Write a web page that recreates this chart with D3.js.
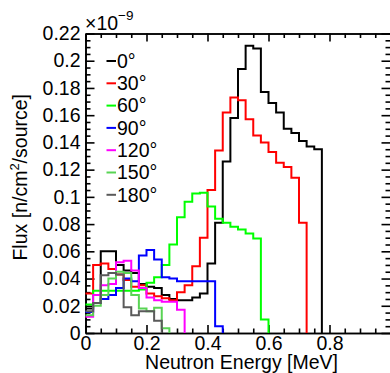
<!DOCTYPE html>
<html>
<head>
<meta charset="utf-8">
<script src="https://cdn.jsdelivr.net/npm/d3@7"></script>
<style>
  body { margin: 0; background: #fff; }
  svg text { font-family: "Liberation Sans", Arial, Helvetica, sans-serif; fill: #000; }
</style>
</head>
<body>
<div id="chart"></div>
<script>
// histogram bins are 0.025 MeV wide, starting at 0
var binWidth = 0.025;

var angles = ["0°", "30°", "60°", "90°", "120°", "150°", "180°"];
var colors = ["#000000", "#ff0000", "#00ff00", "#0000ff", "#ff00ff", "#59d454", "#5a5a5a"];

// flux per bin, units of 1e-9 n/cm2/source
var flux0 = [0.018, 0.022, 0.060, 0.060, 0.050, 0.046, 0.044, 0.036, 0.034, 0.033, 0.028, 0.025, 0.024, 0.024, 0.026, 0.029,
	0.051, 0.081, 0.126, 0.158, 0.194, 0.211, 0.209, 0.177, 0.169, 0.162, 0.150, 0.147, 0.141, 0.137, 0.135];
var flux30 = [0.029, 0.050, 0.051, 0.047, 0.043, 0.039, 0.034, 0.035, 0.029, 0.027, 0.0255, 0.024, 0.030, 0.035, 0.049,
	0.070, 0.105, 0.134, 0.162, 0.173, 0.171, 0.157, 0.145, 0.140, 0.133, 0.125, 0.122, 0.114, 0.081];
var flux60 = [0.021, 0.031, 0.031, 0.031, 0.031, 0.031, 0.031, 0.032, 0.037, 0.041, 0.050, 0.065, 0.085, 0.0965, 0.1025,
	0.103, 0.093, 0.084, 0.081, 0.078, 0.076, 0.073, 0.0695, 0.010];
var flux90 = [0.0155, 0.022, 0.025, 0.028, 0.033, 0.040, 0.038, 0.057, 0.061, 0.054, 0.041, 0.040, 0.038, 0.038, 0.038,
	0.038, 0.038, 0.005];
var flux120 = [0.012, 0.028, 0.035, 0.036, 0.052, 0.053, 0.046, 0.033, 0.026, 0.024, 0.023, 0.023, 0.017];
var flux150 = [0.013, 0.020, 0.028, 0.040, 0.045, 0.044, 0.028, 0.018, 0.016, 0.0185, 0.0035];
var flux180 = [0.016, 0.022, 0.0425, 0.044, 0.043, 0.019, 0.013, 0.016, 0.016, 0.009];

var series = [flux0, flux30, flux60, flux90, flux120, flux150, flux180];

var xTicks = [0, 0.2, 0.4, 0.6, 0.8, 1];
var xTickLabels = ["0", "0.2", "0.4", "0.6", "0.8", ""];
var xMinor = [0.05, 0.1, 0.15, 0.25, 0.3, 0.35, 0.45, 0.5, 0.55, 0.65, 0.7, 0.75, 0.85, 0.9, 0.95];
var yTicks = [0, 0.02, 0.04, 0.06, 0.08, 0.1, 0.12, 0.14, 0.16, 0.18, 0.2, 0.22];
var yTickLabels = ["0", "0.02", "0.04", "0.06", "0.08", "0.1", "0.12", "0.14", "0.16", "0.18", "0.2", "0.22"];
var yMinor = [];
for (var k = 0; k < 44; k++) {
	if (k % 4 !== 0) yMinor.push(k * 0.005);
}

var width = 390, height = 373;
var plot = {left: 85.5, right: 390.5, top: 33.5, bottom: 333};

var svg = d3.select("#chart").append("svg")
	.attr("width", width)
	.attr("height", height);

var x = d3.scaleLinear().domain([0, 1]).range([plot.left, plot.right]);
var y = d3.scaleLinear().domain([0, 0.22]).range([plot.bottom, plot.top]);

function styleAxis(g) {
	g.selectAll("path, line").attr("stroke", "#000").attr("stroke-width", 1.6);
	g.selectAll("text").attr("font-size", 19.5).attr("fill", "#000");
}

// major + minor ticks, all pointing into the frame
svg.append("g").attr("transform", "translate(0," + plot.bottom + ")")
	.call(d3.axisBottom(x).tickValues(xTicks).tickSizeInner(-8).tickSizeOuter(0).tickPadding(3)
		.tickFormat(function(d, i) { return xTickLabels[i]; }))
	.call(styleAxis);
svg.append("g").attr("transform", "translate(0," + plot.bottom + ")")
	.call(d3.axisBottom(x).tickValues(xMinor).tickSizeInner(-4.5).tickSizeOuter(0).tickFormat(""))
	.call(styleAxis);
svg.append("g").attr("transform", "translate(0," + plot.top + ")")
	.call(d3.axisTop(x).tickValues(xTicks).tickSizeInner(-8).tickSizeOuter(0).tickFormat(""))
	.call(styleAxis);
svg.append("g").attr("transform", "translate(0," + plot.top + ")")
	.call(d3.axisTop(x).tickValues(xMinor).tickSizeInner(-4.5).tickSizeOuter(0).tickFormat(""))
	.call(styleAxis);

svg.append("g").attr("transform", "translate(" + plot.left + ",0)")
	.call(d3.axisLeft(y).tickValues(yTicks).tickSizeInner(-9).tickSizeOuter(0).tickPadding(5)
		.tickFormat(function(d, i) { return yTickLabels[i]; }))
	.call(styleAxis);
svg.append("g").attr("transform", "translate(" + plot.left + ",0)")
	.call(d3.axisLeft(y).tickValues(yMinor).tickSizeInner(-5).tickSizeOuter(0).tickFormat(""))
	.call(styleAxis);
svg.append("g").attr("transform", "translate(" + plot.right + ",0)")
	.call(d3.axisRight(y).tickValues(yTicks).tickSizeInner(-9).tickSizeOuter(0).tickFormat(""))
	.call(styleAxis);
svg.append("g").attr("transform", "translate(" + plot.right + ",0)")
	.call(d3.axisRight(y).tickValues(yMinor).tickSizeInner(-5).tickSizeOuter(0).tickFormat(""))
	.call(styleAxis);

// step outline of each histogram
function stepPoints(values) {
	var pts = [];
	values.forEach(function(v, i) {
		pts.push([x(i * binWidth), y(v)]);
		pts.push([x((i + 1) * binWidth), y(v)]);
	});
	pts.push([x(values.length * binWidth), y(0)]);
	return pts;
}

var line = d3.line();
series.forEach(function(values, i) {
	svg.append("path")
		.attr("d", line(stepPoints(values)))
		.attr("fill", "none")
		.attr("stroke", colors[i])
		.attr("stroke-width", 2)
		.attr("stroke-linejoin", "miter");
});

// legend
var legend = svg.append("g");
angles.forEach(function(a, i) {
	var cy = 61 + i * 22.3;
	legend.append("line")
		.attr("x1", 106.5).attr("x2", 116)
		.attr("y1", cy).attr("y2", cy)
		.attr("stroke", colors[i]).attr("stroke-width", 2);
	legend.append("text")
		.attr("x", 117).attr("y", cy)
		.attr("dy", "0.35em")
		.attr("font-size", 19.5)
		.text(a);
});

// exponent
var expo = svg.append("text").attr("x", 85).attr("y", 30).attr("font-size", 19.5);
expo.append("tspan").text("×10");
expo.append("tspan").attr("font-size", 13.5).attr("dy", -10).text("−9");

// axis titles
svg.append("text")
	.attr("x", 338).attr("y", 368.5)
	.attr("text-anchor", "end")
	.attr("font-size", 19.5)
	.text("Neutron Energy [MeV]");

var yt = svg.append("text")
	.attr("transform", "translate(27,94) rotate(-90)")
	.attr("text-anchor", "end")
	.attr("font-size", 19.5);
yt.append("tspan").text("Flux [n/cm");
yt.append("tspan").attr("font-size", 13).attr("dy", -8).text("2");
yt.append("tspan").attr("dy", 8).text("/source]");
</script>
</body>
</html>
